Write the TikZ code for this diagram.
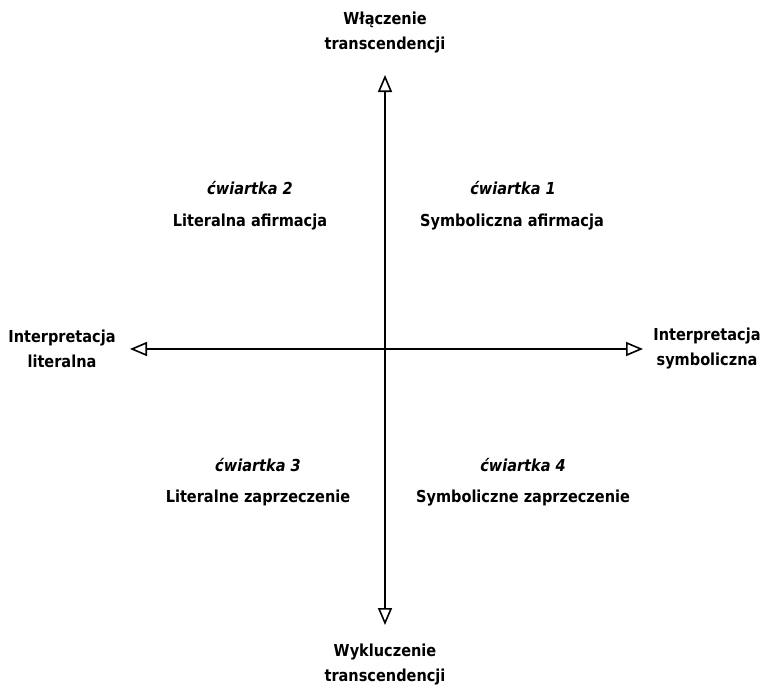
\documentclass[tikz,border=0pt]{standalone}
\usepackage{fontspec}
\setmainfont{DejaVu Sans}[FakeStretch=0.88]
\usetikzlibrary{arrows.meta}
\begin{document}
\begin{tikzpicture}[x=1pt,y=-1pt,
  lab/.style={font=\bfseries\fontsize{16.5}{25}\selectfont, align=center, inner sep=0pt},
  qt/.style={font=\bfseries\itshape\fontsize{16.5}{20}\selectfont, inner sep=0pt},
  axis/.style={line width=1.8pt, -{Triangle[open, length=17pt, width=14pt, line width=1.6pt]}}]
\useasboundingbox (0,0) rectangle (763,685);
\coordinate (c) at (385,349);
\coordinate (top) at (385,75);
\coordinate (bot) at (385,625);
\coordinate (lft) at (130,349);
\coordinate (rgt) at (643,349);
\draw[axis] (c) -- (top);
\draw[axis] (c) -- (bot);
\draw[axis] (c) -- (lft);
\draw[axis] (c) -- (rgt);
\node[lab] (tl) at (385,33) {Włączenie\\transcendencji};
\node[lab] (bl) at (385,665) {Wykluczenie\\transcendencji};
\node[lab] (ll) at (62,349) {Interpretacja\\literalna};
\node[lab] (rl) at (707,349) {Interpretacja\\symboliczna};
\node[qt] (q2) at (250,188) {ćwiartka 2};
\node[lab] (n2) at (250,222) {Literalna afirmacja};
\node[qt] (q1) at (513,188) {ćwiartka 1};
\node[lab] (n1) at (512,222) {Symboliczna afirmacja};
\node[qt] (q3) at (258,465) {ćwiartka 3};
\node[lab] (n3) at (258,498) {Literalne zaprzeczenie};
\node[qt] (q4) at (523,465) {ćwiartka 4};
\node[lab] (n4) at (523,498) {Symboliczne zaprzeczenie};
\end{tikzpicture}
\end{document}
